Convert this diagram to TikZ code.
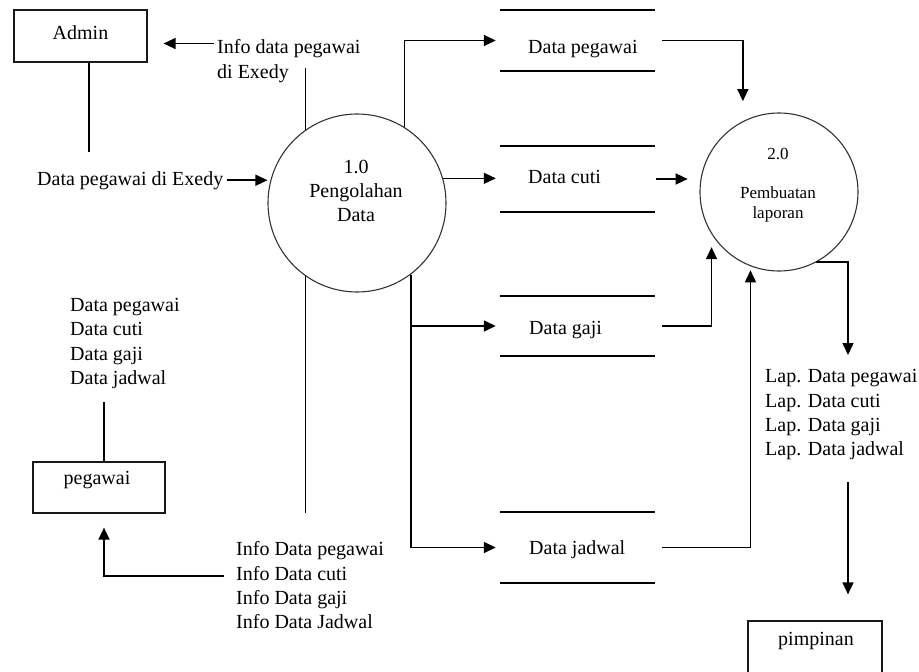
\documentclass[tikz,border=0pt]{standalone}
\usepackage{fontspec}
\setmainfont{Liberation Serif}
\usetikzlibrary{arrows.meta}
\begin{document}
\begin{tikzpicture}[x=1pt,y=-1pt,
  lbl/.style={font=\fontsize{20}{24.3}\selectfont, inner sep=0pt, text=black},
  list/.style={lbl, align=left, anchor=north west},
  flow/.style={line width=1.5pt, draw=black},
  arr/.style={flow, -{Triangle[length=12pt,width=11pt]}},
  proc/.style={circle, draw=black!80, line width=1.1pt, minimum size=#1, inner sep=0pt},
  entity/.style={draw=black!90, line width=1.2pt, inner sep=0pt},
  store/.style={inner sep=0pt, minimum width=155pt}]
\clip (0,0) rectangle (919,672);
\fill[white] (0,0) rectangle (919,672);

% external entities
\node[entity, minimum width=133pt, minimum height=52pt] (admin) at (80.5,36) {};
\node[lbl, anchor=base] (adminTxt) at (80.5,39) {Admin};
\node[entity, minimum width=132pt, minimum height=51pt] (peg) at (99,487.5) {};
\node[lbl, anchor=base] (pegTxt) at (97,484) {pegawai};
\node[entity, minimum width=134pt, minimum height=55pt] (pim) at (815,648.5) {};
\node[lbl, anchor=base] (pimTxt) at (816,645) {pimpinan};

% processes
\node[proc=178pt] (c1) at (357,203) {};
\node[lbl, align=center, anchor=north] (c1txt) at (356,159.5) {1.0\\Pengolahan\\Data};
\node[proc=158pt] (c2) at (779,192) {};
\node[font=\fontsize{17}{20}\selectfont, inner sep=0pt, align=center, anchor=north] (c2txt) at (778,147.5) {2.0\\[19pt]Pembuatan\\laporan};

% data stores
\node[store, minimum height=61pt] (ds1) at (577.5,40.5) {};
\node[store, minimum height=66pt] (ds2) at (577.5,179) {};
\node[store, minimum height=60pt] (ds3) at (577.5,326) {};
\node[store, minimum height=71pt] (ds4) at (577.5,547.5) {};
\foreach \s in {ds1,ds2,ds3,ds4} {
  \draw[flow] (\s.north west) -- (\s.north east);
  \draw[flow] (\s.south west) -- (\s.south east);
}
\node[lbl, anchor=base west] (l1) at (528,53) {Data pegawai};
\node[lbl, anchor=base west] (l2) at (528,183.5) {Data cuti};
\node[lbl, anchor=base west] (l3) at (529,334) {Data gaji};
\node[lbl, anchor=base west] (l4) at (529,554.5) {Data jadwal};

% Admin -> process 1.0
\coordinate (adminTail) at (89,152);
\draw[flow] (admin.south -| adminTail) -- (adminTail);
\node[lbl, anchor=base west] (dpe) at (37,185) {Data pegawai di Exedy};
\draw[arr] ([xshift=4pt]dpe.east) -- (dpe.east -| c1.west);

% process 1.0 -> Admin
\coordinate (c1top) at (306,68);
\draw[flow] (c1.125) -- (c1.125 |- c1top);
\node[list] (infoEx) at (217,39.5) {Info data pegawai\\di Exedy};
\draw[arr, shorten >=16pt] ([xshift=-3pt,yshift=-4pt]infoEx.north west) coordinate (ie) -- (ie -| admin.east);

% process 1.0 -> data stores
\draw[arr, shorten >=4pt] (c1.58) |- (ds1.west);
\draw[arr, shorten >=4pt] (c1.16) -- (c1.16 -| ds2.west);
\draw[arr, shorten >=4pt] (c1.-53) |- (ds3.west);
\draw[arr, shorten >=4pt] (c1.-53) |- (ds4.west);

% process 1.0 -> pegawai
\coordinate (c1bot) at (306,513);
\draw[flow] (c1.-125) -- (c1.-125 |- c1bot);
\node[list] (infoList) at (236,541.5) {Info Data pegawai\\Info Data cuti\\Info Data gaji\\Info Data Jadwal};
\coordinate (pegLine) at (104,402);
\coordinate (infoTail) at (224,576);
\draw[arr, shorten >=14pt] (infoTail) -| (peg.south -| pegLine);

% pegawai -> process 1.0
\node[list] (pegList) at (70,298) {Data pegawai\\Data cuti\\Data gaji\\Data jadwal};
\draw[flow] (peg.north -| pegLine) -- (pegLine);

% data stores -> process 2.0
\draw[arr, shorten <=7pt, shorten >=20pt] (ds1.east) -| (c2.117);
\draw[arr, shorten <=1pt, shorten >=13pt] (ds2.east) -- (ds2.east -| c2.170);
\draw[arr, shorten <=7pt, shorten >=13pt] (ds3.east) -| (c2.212);
\draw[arr, shorten <=7pt, shorten >=4pt] (ds4.east) -| (c2.249);

% process 2.0 -> pimpinan
\coordinate (lapIn) at (848,355);
\draw[arr] (c2.-62) -| (lapIn);
\node[list] (lapList) at (765,369.5) {Lap. Data pegawai\\Lap. Data cuti\\Lap. Data gaji\\Lap. Data jadwal};
\coordinate (lapOut) at (848,482);
\draw[arr, shorten >=26pt] (lapOut) -- (lapOut |- pim.north);
\end{tikzpicture}
\end{document}
